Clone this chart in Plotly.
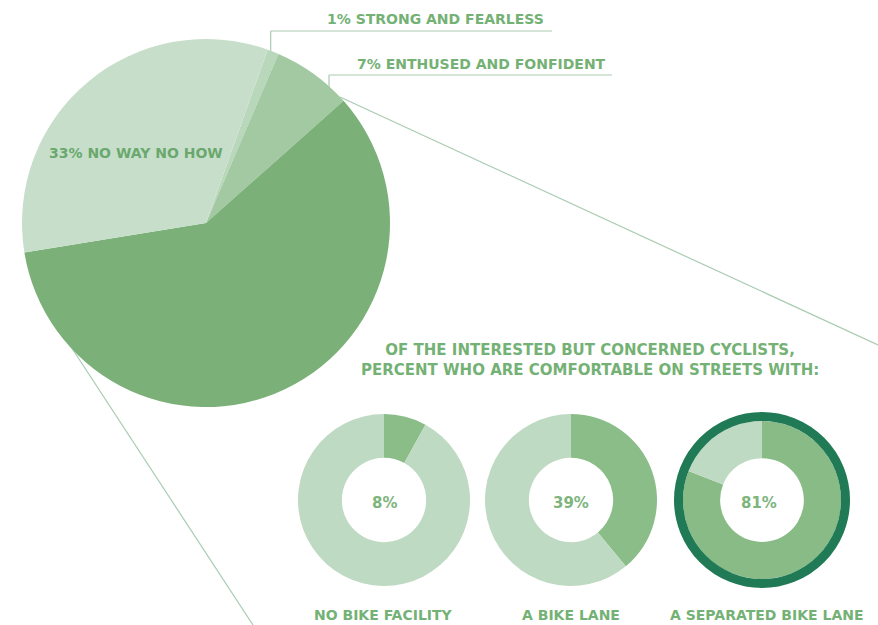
import plotly.graph_objects as go

W, H = 878, 625

# Main pie data
main_labels = ["STRONG AND FEARLESS", "ENTHUSED AND FONFIDENT", "INTERESTED BUT CONCERNED", "NO WAY NO HOW"]
main_values = [1, 7, 59, 33]
main_colors = ["#b9d7ba", "#a2c9a1", "#7bb078", "#c7dfca"]

# Donut data
donut_names = ["NO BIKE FACILITY", "A BIKE LANE", "A SEPARATED BIKE LANE"]
comfortable = [8, 39, 81]

heading = ["OF THE INTERESTED BUT CONCERNED CYCLISTS,", "PERCENT WHO ARE COMFORTABLE ON STREETS WITH:"]

TXT = "#74b175"
FONT = "DejaVu Sans"

def dom_x(cx, r):
    return [(cx - r) / W, (cx + r) / W]

def dom_y(cy, r):
    return [1 - (cy + r) / H, 1 - (cy - r) / H]

fig = go.Figure()

# invisible pixel axes for shapes / annotations
fig.add_trace(go.Scatter(x=[0, W], y=[0, H], mode="markers", marker=dict(opacity=0), hoverinfo="skip", showlegend=False))

cx, cy, r = 206, 223, 184
fig.add_trace(go.Pie(
    labels=main_labels, values=main_values, sort=False, direction="clockwise",
    rotation=19.6, marker=dict(colors=main_colors, line=dict(width=0)),
    textinfo="none", hoverinfo="label+percent", showlegend=False,
    domain=dict(x=dom_x(cx, r), y=dom_y(cy, r)),
))

centers = [384, 571, 762]
dcy = 500
radii = [86, 86, 79]
dark = ["#8bbd89", "#8bbd89", "#88bb85"]
light = "#bfdac2"
for i, (name, v) in enumerate(zip(donut_names, comfortable)):
    fig.add_trace(go.Pie(
        labels=["Comfortable", "Not comfortable"], values=[v, 100 - v], sort=False,
        direction="clockwise", rotation=0, hole=0.49 if i < 2 else 0.53,
        marker=dict(colors=[dark[i], light], line=dict(width=0)),
        textinfo="none", showlegend=False, name=name,
        domain=dict(x=dom_x(centers[i], radii[i]), y=dom_y(dcy, radii[i])),
    ))

shapes = [
    # leader line 1
    dict(type="line", x0=270.7, y0=52, x1=270.7, y1=31),
    dict(type="line", x0=270.7, y0=31, x1=552, y1=31),
    # leader line 2
    dict(type="line", x0=329, y0=88, x1=329, y1=75),
    dict(type="line", x0=329, y0=75, x1=612, y1=75),
    # zoom lines
    dict(type="line", x0=340, y0=97, x1=878, y1=345),
    dict(type="line", x0=60, y0=330, x1=253, y1=625),
]
for s in shapes:
    s.update(xref="x", yref="y", layer="below", line=dict(color="#a9cbb2", width=1.2))
shapes.append(dict(type="circle", xref="x", yref="y", layer="above",
                   x0=762 - 83.5, x1=762 + 83.5, y0=dcy - 83.5, y1=dcy + 83.5,
                   line=dict(color="#1f7a55", width=9)))

ann = []
def A(x, y, t, size=14, color=TXT, xanchor="center"):
    ann.append(dict(x=x, y=y, xref="x", yref="y", text=t, showarrow=False,
                    xanchor=xanchor, yanchor="middle", align="center",
                    font=dict(family=FONT, size=size, color=color, weight="bold")))

A(325, 19, "1% " + main_labels[0], xanchor="left")
A(355, 64, "7% " + main_labels[1], xanchor="left")
A(47, 153, "33% " + main_labels[3], color="#6aa86e", xanchor="left")
A(590, 360, "<br>".join(heading), size=15)
for i, (name, v) in enumerate(zip(donut_names, comfortable)):
    A(centers[i] - (3 if i == 2 else 0), 503, f"{v}%", size=15, color="#7db57d")
    A([383, 571, 767][i], 615, name)

fig.update_layout(
    width=W, height=H, margin=dict(l=0, r=0, t=0, b=0),
    paper_bgcolor="white", plot_bgcolor="white",
    xaxis=dict(range=[0, W], visible=False, domain=[0, 1], fixedrange=True),
    yaxis=dict(range=[H, 0], visible=False, domain=[0, 1], fixedrange=True),
    shapes=shapes, annotations=ann, showlegend=False,
)

fig.write_html("out.html")
